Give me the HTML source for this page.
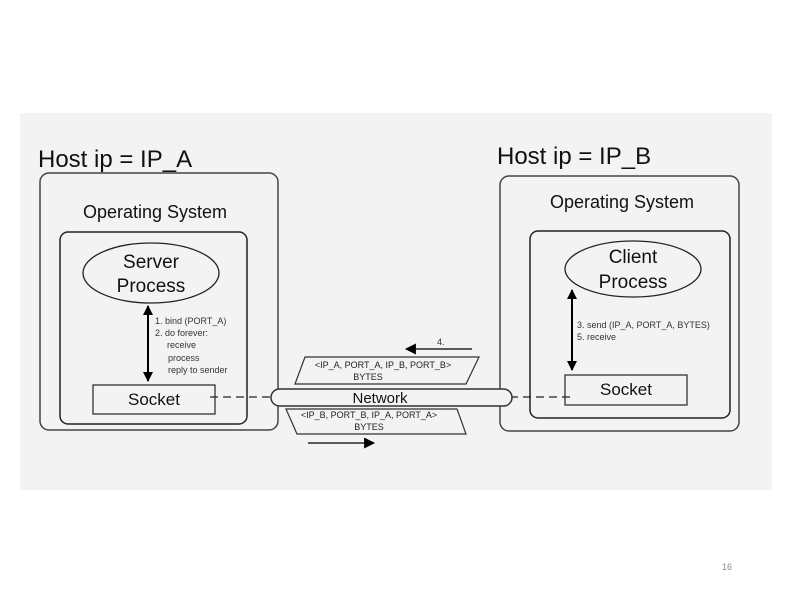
<!DOCTYPE html>
<html><head><meta charset="utf-8"><style>
html,body{margin:0;padding:0;background:#fff;width:794px;height:595px;overflow:hidden}
svg{display:block;font-family:"Liberation Sans",Arial,sans-serif}
</style></head><body>
<svg width="794" height="595" viewBox="0 0 794 595" xmlns="http://www.w3.org/2000/svg">
<defs>
<marker id="ah" viewBox="0 0 10 10" refX="9" refY="5" markerWidth="12" markerHeight="10" orient="auto-start-reverse" markerUnits="userSpaceOnUse"><path d="M0,0 L10,5 L0,10 z" fill="#000"/></marker>
<marker id="ah2" viewBox="0 0 10 10" refX="9" refY="5" markerWidth="16" markerHeight="11" orient="auto" markerUnits="userSpaceOnUse"><path d="M0,0 L10,5 L0,10 z" fill="#000"/></marker>
</defs>
<rect x="20" y="113" width="752" height="377" fill="#f3f3f3"/>
<text x="38" y="167" font-size="24" fill="#111">Host ip = IP_A</text>
<rect x="40" y="173" width="238" height="257" rx="9" fill="none" stroke="#444" stroke-width="1.5"/>
<text x="155" y="218" font-size="18" text-anchor="middle" fill="#111">Operating System</text>
<rect x="60" y="232" width="187" height="192" rx="8" fill="none" stroke="#222" stroke-width="1.5"/>
<ellipse cx="151" cy="273" rx="68" ry="30" fill="none" stroke="#222" stroke-width="1.3"/>
<text x="151" y="268" font-size="19" text-anchor="middle" fill="#111">Server</text>
<text x="151" y="292" font-size="19" text-anchor="middle" fill="#111">Process</text>
<line x1="148" y1="306" x2="148" y2="381" stroke="#000" stroke-width="2" marker-start="url(#ah)" marker-end="url(#ah)"/>
<g font-size="9" fill="#333">
<text x="155" y="324">1. bind (PORT_A)</text>
<text x="155" y="336">2. do forever:</text>
<text x="167" y="348">receive</text>
<text x="168" y="361">process</text>
<text x="168" y="373">reply to sender</text>
</g>
<rect x="93" y="385" width="122" height="29" fill="none" stroke="#333" stroke-width="1.3"/>
<text x="154" y="405" font-size="17" text-anchor="middle" fill="#111">Socket</text>
<text x="497" y="164" font-size="24" fill="#111">Host ip = IP_B</text>
<rect x="500" y="176" width="239" height="255" rx="9" fill="none" stroke="#444" stroke-width="1.5"/>
<text x="622" y="208" font-size="18" text-anchor="middle" fill="#111">Operating System</text>
<rect x="530" y="231" width="200" height="187" rx="8" fill="none" stroke="#222" stroke-width="1.5"/>
<ellipse cx="633" cy="269" rx="68" ry="28" fill="none" stroke="#222" stroke-width="1.3"/>
<text x="633" y="263" font-size="19" text-anchor="middle" fill="#111">Client</text>
<text x="633" y="288" font-size="19" text-anchor="middle" fill="#111">Process</text>
<line x1="572" y1="290" x2="572" y2="370" stroke="#000" stroke-width="2" marker-start="url(#ah)" marker-end="url(#ah)"/>
<g font-size="9" fill="#333">
<text x="577" y="328">3. send (IP_A, PORT_A, BYTES)</text>
<text x="577" y="340">5. receive</text>
</g>
<rect x="565" y="375" width="122" height="30" fill="none" stroke="#333" stroke-width="1.3"/>
<text x="626" y="395" font-size="17" text-anchor="middle" fill="#111">Socket</text>
<line x1="210" y1="397" x2="272" y2="397" stroke="#222" stroke-width="1.2" stroke-dasharray="8,5"/>
<line x1="510" y1="397" x2="573" y2="397" stroke="#222" stroke-width="1.2" stroke-dasharray="8,5"/>
<rect x="271" y="389" width="241" height="17" rx="8.5" fill="#f3f3f3" stroke="#333" stroke-width="1.5"/>
<text x="380" y="403" font-size="15" text-anchor="middle" fill="#111">Network</text>
<polygon points="305,357 479,357 466,384 295,384" fill="none" stroke="#333" stroke-width="1.2"/>
<text x="383" y="368" font-size="9" text-anchor="middle" fill="#222">&lt;IP_A, PORT_A, IP_B, PORT_B&gt;</text>
<text x="368" y="380" font-size="9" text-anchor="middle" fill="#222">BYTES</text>
<polygon points="286,409 457,409 466,434 297,434" fill="none" stroke="#333" stroke-width="1.2"/>
<text x="369" y="418" font-size="9" text-anchor="middle" fill="#222">&lt;IP_B, PORT_B, IP_A, PORT_A&gt;</text>
<text x="369" y="430" font-size="9" text-anchor="middle" fill="#222">BYTES</text>
<line x1="472" y1="349" x2="406" y2="349" stroke="#000" stroke-width="1.3" marker-end="url(#ah2)"/>
<text x="437" y="345" font-size="9" fill="#333">4.</text>
<line x1="308" y1="443" x2="374" y2="443" stroke="#000" stroke-width="1.3" marker-end="url(#ah2)"/>
<text x="722" y="570" font-size="9" fill="#888">16</text>
</svg>
</body></html>
